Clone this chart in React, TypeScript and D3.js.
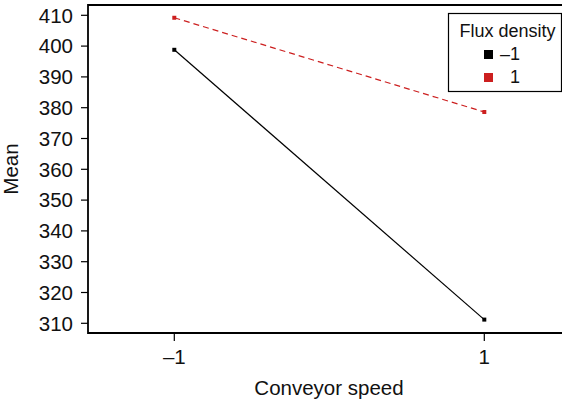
import React from "react";
import * as d3 from "d3";

const speeds = [-1, 1];
const fluxLevels = ["–1", "1"];
const meanLow = [398.8, 311.2];
const meanHigh = [409.2, 378.6];
const yTicks = [310, 320, 330, 340, 350, 360, 370, 380, 390, 400, 410];
const colors = ["#000000", "#cc1f1f"];

const App = () => {
  const width = 562;
  const height = 403;
  const plot = { left: 88, top: 5, right: 572, bottom: 333 };
  const font = "'Liberation Sans', Arial, sans-serif";

  const x = d3.scaleLinear().domain([-1, 1]).range([174.3, 484.3]);
  const y = d3.scaleLinear().domain([310, 410]).range([323.3, 15.3]);

  const line = d3
    .line<number>()
    .x((_, i) => x(speeds[i]))
    .y((d) => y(d));

  const series = [meanLow, meanHigh];

  return (
    <svg
      width={width}
      height={height}
      style={{ position: "absolute", left: 0, top: 0, background: "#fff" }}
      fontFamily={font}
    >
      {/* frame: top, left, bottom */}
      <path
        d={`M${plot.right},${plot.top}H${plot.left}V${plot.bottom}H${plot.right}`}
        fill="none"
        stroke="#000"
        strokeWidth={1.8}
      />

      {yTicks.map((t) => (
        <g key={t}>
          <line x1={81} x2={plot.left} y1={y(t)} y2={y(t)} stroke="#000" strokeWidth={1.2} />
          <text x={73} y={y(t)} dy="0.36em" textAnchor="end" fontSize={20.5} fill="#111">
            {t}
          </text>
        </g>
      ))}
      <text
        transform={`translate(18,${(plot.top + plot.bottom) / 2}) rotate(-90)`}
        textAnchor="middle"
        fontSize={20.5}
        fill="#111"
      >
        Mean
      </text>

      {speeds.map((s) => (
        <g key={s}>
          <line x1={x(s)} x2={x(s)} y1={plot.bottom} y2={341} stroke="#000" strokeWidth={1.2} />
          <text x={x(s)} y={364} textAnchor="middle" fontSize={20.5} fill="#111">
            {s < 0 ? "–1" : "1"}
          </text>
        </g>
      ))}
      <text x={329} y={395} textAnchor="middle" fontSize={20.5} fill="#111">
        Conveyor speed
      </text>

      {series.map((vals, si) => (
        <g key={si}>
          <path
            d={line(vals) || ""}
            fill="none"
            stroke={colors[si]}
            strokeWidth={1.2}
            strokeDasharray={si === 1 ? "6,4" : undefined}
          />
          {vals.map((v, i) => (
            <rect
              key={i}
              x={x(speeds[i]) - 2}
              y={y(v) - 2}
              width={4}
              height={4}
              fill={colors[si]}
            />
          ))}
        </g>
      ))}

      {/* legend */}
      <rect x={448.5} y={13.5} width={113} height={78} fill="#fff" stroke="#000" strokeWidth={1.2} />
      <text x={507.5} y={37} textAnchor="middle" fontSize={18} fill="#111">
        Flux density
      </text>
      {fluxLevels.map((lab, i) => (
        <g key={lab}>
          <rect x={484} y={50 + i * 23} width={9} height={9} fill={colors[i]} />
          <text x={520} y={60 + i * 23} textAnchor="end" fontSize={18} fill="#111">
            {lab}
          </text>
        </g>
      ))}
    </svg>
  );
};

export default App;
